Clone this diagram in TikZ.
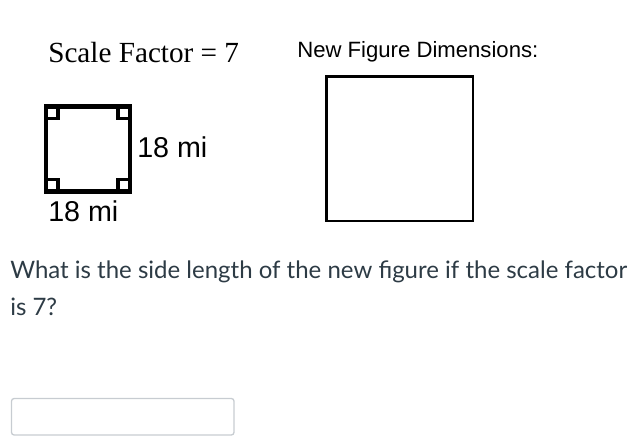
\documentclass[tikz,border=0pt]{standalone}
\usepackage{fontspec}
\setmainfont{Liberation Sans}
\newfontfamily\timesfont{Liberation Serif}
\newfontfamily\latofont{Lato}
\definecolor{qtext}{rgb}{0.176,0.231,0.271}
\definecolor{boxgray}{rgb}{0.78,0.80,0.82}
\tikzset{
  sidelabel/.style={inner sep=0pt,font=\fontsize{21.5}{24}\selectfont},
  ranglemark/.style={line width=2.5pt},
  question/.style={anchor=base west,inner sep=0pt,text=qtext,font=\latofont\fontsize{18}{22}\selectfont},
}
\begin{document}
\begin{tikzpicture}[line cap=rect,line join=miter,x=0.75pt,y=-0.75pt]
\useasboundingbox (0,0) rectangle (634,445);
% heading
\node[anchor=base west,inner sep=0pt,font=\timesfont\fontsize{21.9}{24}\selectfont] (scale) at (48,63) {Scale Factor = 7};
\node[anchor=base west,inner sep=0pt,font=\fontsize{16.6}{20}\selectfont] (newdim) at (297,58) {New Figure Dimensions:};
% original square
\draw [line width=3.4pt] (46,106.3) rectangle (130,191.7);
\draw [ranglemark] (46,118.3) -- (58,118.3) -- (58,106.3);
\draw [ranglemark] (130,118.3) -- (118,118.3) -- (118,106.3);
\draw [ranglemark] (46,179.7) -- (58,179.7) -- (58,191.7);
\draw [ranglemark] (130,179.7) -- (118,179.7) -- (118,191.7);
\node[sidelabel,anchor=base west] (rightlbl) at (137,158) {18 mi};
\node[sidelabel,anchor=base west] (bottomlbl) at (48,221) {18 mi};
% new square
\draw [line width=2pt] (326.5,76.5) rectangle (473,221);
% question
\node[question] (q1) at (10,278) {What is the side length of the new figure if the scale factor};
\node[question] (q2) at (10,315) {is 7?};
% answer box
\draw [boxgray,line width=1pt,rounded corners=2pt] (11.5,398.5) rectangle (234,435);
\end{tikzpicture}
\end{document}
